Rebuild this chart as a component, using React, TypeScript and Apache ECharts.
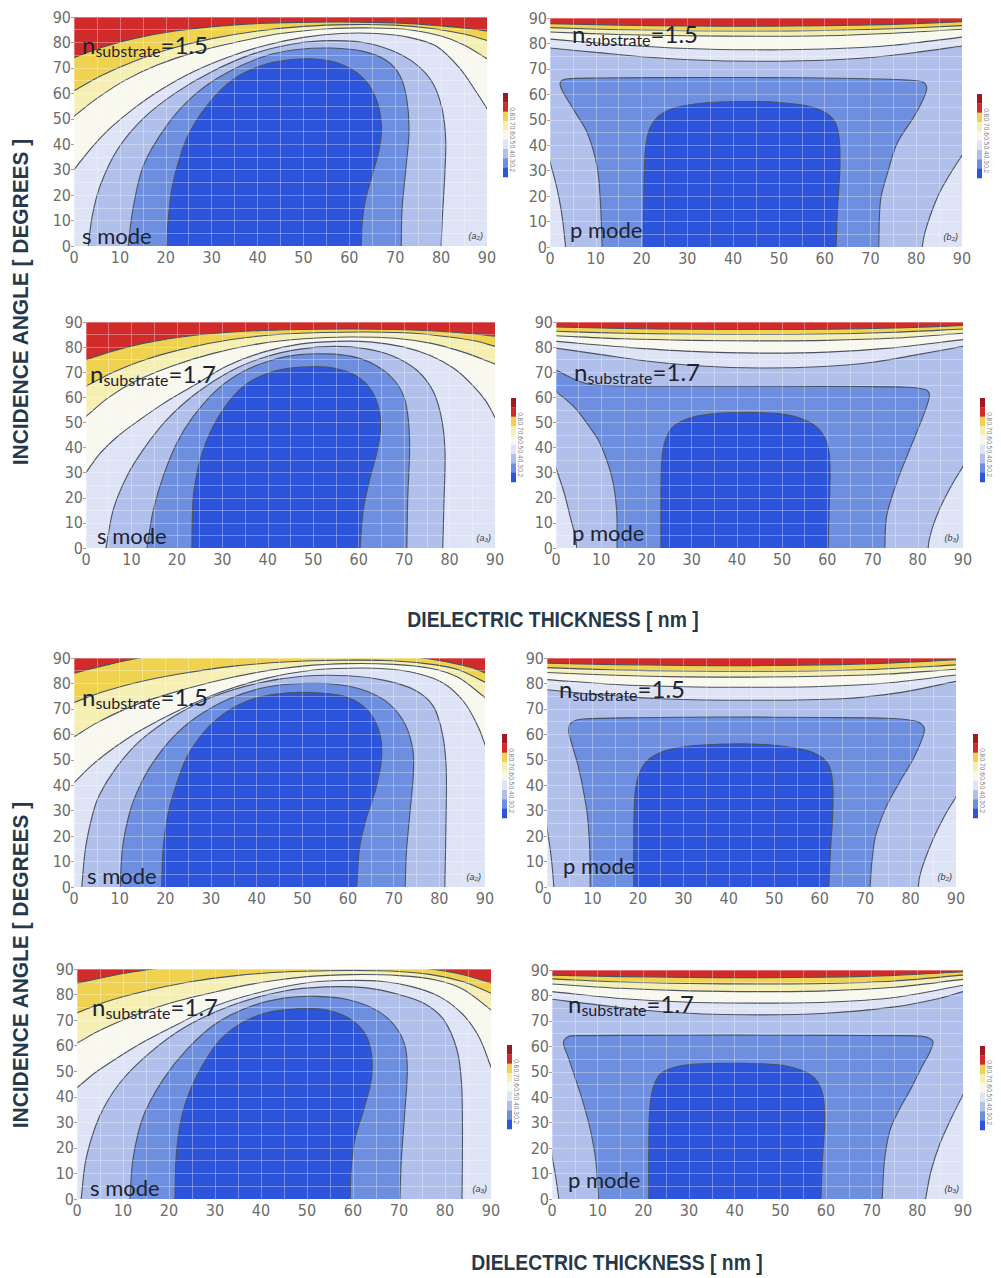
import { useEffect, useRef } from 'react';
import * as echarts from 'echarts';

type Pt = [number, number];
type Corner = 'bl' | 'br';
type Layer = { band: number; close: Corner[]; pts: Pt[] };

// Band fills, lowest value first: <0.2, 0.2–0.3, …, 0.8–0.9, >0.9
const BAND_COLORS = ['#2c55dc', '#6e8fe0', '#b1bfeb', '#dee4f5', '#f8f8ef', '#f5efb4', '#eed250', '#d22b2c', '#9c1b1e'];
const BAR_LABELS = ['0.8', '0.7', '0.6', '0.5', '0.4', '0.3', '0.2'];
const AXIS_MIN = 0;
const AXIS_MAX = 90;
const AXIS_STEP = 10;
const Y_TITLE = 'INCIDENCE ANGLE [ DEGREES ]';
const X_TITLE = 'DIELECTRIC THICKNESS [ nm ]';

const BELOW: Corner[] = ['br', 'bl'];
const NONE: Corner[] = [];
const LEFT_CORNER: Corner[] = ['bl'];
const RIGHT_CORNER: Corner[] = ['br'];

// ---------- (a2) s mode, n = 1.5 (upper block) ----------
const P1_C80: Pt[] = [[0, 74], [6, 78], [13, 81.5], [22, 84.5], [32, 86.5], [42, 87.6], [52, 88], [62, 88], [72, 87.5], [80, 86.5], [86, 85.5], [90, 84.5]];
const P1_C70: Pt[] = [[0, 61], [6, 67], [13, 72.5], [21, 77.5], [30, 81.5], [40, 84.5], [50, 86.3], [60, 87], [70, 86.8], [78, 85.5], [85, 83.3], [90, 80.8]];
const P1_C60: Pt[] = [[0, 51], [5, 58], [11, 65], [18, 71], [26, 76], [35, 80], [45, 83.5], [55, 85.3], [65, 85.7], [73, 85], [80, 82.5], [85, 79], [90, 73.6]];
const P1_C50: Pt[] = [[0, 30], [4, 39], [8, 46.5], [13, 54], [19, 61.5], [26, 68.5], [34, 74.5], [42, 79], [50, 82], [58, 83.5], [66, 83.5], [73, 82], [79, 78.5], [84, 70], [87.5, 61], [90, 54]];
const P1_C40: Pt[] = [[3.1, 0], [4, 12], [5.7, 23.7], [9.5, 38], [15, 50], [22, 60], [30, 68.5], [39, 75.5], [48, 79.5], [56, 80.7], [63, 80], [69, 77], [74.5, 71.5], [78.2, 64], [80.2, 54], [81, 42], [80.8, 28], [80.3, 12], [80, 0]];
const P1_C30: Pt[] = [[11.8, 0], [12.8, 14], [15.1, 31.5], [20.2, 47.3], [26, 59], [33.2, 68], [41.9, 74.8], [49.2, 77.3], [56, 77.8], [63, 76.5], [68, 73], [71, 67], [72.5, 58], [73, 45], [72.3, 30], [71.5, 15], [71.3, 0]];
const P1_C20: Pt[] = [[20.2, 0], [20.6, 12], [21.6, 25], [24.5, 42], [28.9, 55], [34.7, 65.5], [41.9, 71.5], [49, 73.5], [55, 73], [60, 70], [63.5, 65], [66, 57], [67, 47], [66.5, 38], [65, 28], [63.5, 18], [62.8, 9], [62.6, 0]];

// ---------- (b2) p mode, n = 1.5 (upper block) ----------
const P2_C80: Pt[] = [[0, 87.8], [15, 87.2], [30, 86.9], [45, 86.8], [60, 87], [75, 87.5], [90, 88.5]];
const P2_C70: Pt[] = [[0, 86.2], [15, 85.4], [30, 85], [45, 84.9], [60, 85.1], [75, 85.8], [90, 87]];
const P2_C60: Pt[] = [[0, 84.5], [15, 83.5], [30, 83], [45, 82.8], [60, 83], [75, 84], [90, 85.6]];
const P2_C50: Pt[] = [[0, 81.7], [15, 79.5], [30, 78], [45, 77.5], [60, 77.8], [75, 79.3], [90, 82.5]];
const P2_C40: Pt[] = [[0, 78.2], [10, 76.5], [20, 74.8], [32, 73.5], [45, 73], [58, 73.3], [70, 74.5], [80, 76.5], [90, 79]];
const P2_C40L: Pt[] = [[0, 33.5], [1.4, 24], [2.4, 15], [3, 7], [3.4, 0]];
const P2_C40R: Pt[] = [[90, 36], [87.5, 29], [85, 21], [83, 12], [81.8, 5], [81.3, 0]];
const P2_C30: Pt[] = [[11.4, 0], [11, 18], [10.3, 31.5], [8.2, 44.7], [5.5, 53], [3.8, 58], [2.4, 62.5], [2.3, 64.8], [3.5, 66], [10, 66.4], [35, 66.6], [55, 66.5], [72, 66], [78, 65.6], [81.5, 64.8], [82.3, 62.5], [81.5, 58], [79.5, 51.2], [75.8, 40.7], [73.7, 28.9], [72.2, 18.4], [71.8, 0]];
const P2_C20: Pt[] = [[20.4, 0], [20.5, 20], [20.7, 35], [21.5, 45], [23.5, 51], [27, 54.5], [33, 56.5], [42, 57.2], [50, 56.8], [56, 55.5], [60, 53], [62.3, 49], [63.2, 42], [63.3, 30], [62.8, 15], [62.5, 0]];

// ---------- (a3) s mode, n = 1.7 (upper block) ----------
const P3_C80: Pt[] = [[0, 75], [6, 78.5], [14, 82], [24, 84.7], [35, 86.3], [47, 87], [58, 87.2], [68, 87], [78, 86.3], [85, 85.3], [90, 84.3]];
const P3_C70: Pt[] = [[0, 64.4], [6, 70], [13, 75], [22, 79.5], [32, 83], [42, 85], [52, 85.8], [62, 86], [72, 85.5], [80, 84], [86, 82.3], [90, 80.3]];
const P3_C60: Pt[] = [[0, 52.4], [5, 60], [11, 66.5], [19, 72.5], [28, 77.5], [38, 81.3], [48, 83.3], [58, 84], [68, 83.5], [76, 81.5], [83, 78], [90, 73.3]];
const P3_C50: Pt[] = [[0, 30], [3, 37.5], [7, 44.5], [11, 50], [17, 57.5], [24, 65], [31, 72.5], [39, 78], [47, 81.2], [55, 82.3], [63, 82], [70, 80], [76, 76.5], [81, 71.5], [85, 65], [88, 58.5], [90, 52]];
const P3_C40: Pt[] = [[4.4, 0], [6, 15.3], [9, 28.6], [12.6, 39.2], [17.8, 51.1], [24.4, 61.8], [32.4, 71], [39.8, 76.3], [47.1, 79.2], [54.4, 80.3], [61, 79.5], [67.5, 76.5], [73, 70.5], [76.5, 62], [78.3, 51], [79, 38], [78.8, 20], [78.5, 0]];
const P3_C30: Pt[] = [[13.4, 0], [14.8, 15], [17, 28.6], [20, 41.8], [23.6, 52.4], [28.8, 63], [34.6, 70.3], [41.2, 75], [47, 77], [53, 77.3], [58.5, 76.3], [63.5, 73], [67.5, 67.5], [70, 60], [71, 50], [71.2, 38], [70.8, 20], [70.6, 0]];
const P3_C20: Pt[] = [[23.3, 0], [23.4, 12], [23.7, 22], [25.1, 35], [28, 48.5], [32.4, 60.4], [36.8, 67], [42.7, 71], [49.3, 72.2], [55, 71.5], [59.5, 68.5], [62.7, 63], [64.5, 55], [64.8, 47], [64, 38], [62.5, 28], [61, 15], [60.3, 0]];

// ---------- (b3) p mode, n = 1.7 (upper block) ----------
const P4_C80: Pt[] = [[0, 88], [15, 87.4], [30, 87.1], [45, 87], [60, 87.1], [75, 87.6], [90, 88.6]];
const P4_C70: Pt[] = [[0, 86.3], [15, 85.5], [30, 85.1], [45, 85], [60, 85.2], [75, 85.9], [90, 87.2]];
const P4_C60: Pt[] = [[0, 84.5], [15, 83.3], [30, 82.7], [45, 82.5], [60, 82.7], [75, 83.6], [90, 85.5]];
const P4_C50: Pt[] = [[0, 82.3], [15, 80], [30, 78.3], [45, 77.6], [60, 78], [75, 79.8], [90, 83]];
const P4_C40: Pt[] = [[0, 79.6], [10, 77], [20, 74.5], [32, 72.5], [45, 71.7], [58, 72.2], [70, 74], [80, 77], [90, 80.3]];
const P4_C40L: Pt[] = [[0, 31.9], [1.8, 22], [3.2, 12], [4.2, 5], [4.6, 0]];
const P4_C40R: Pt[] = [[90, 32.5], [87.5, 25], [85.2, 17], [83.4, 9], [82.5, 3], [82.3, 0]];
const P4_C30: Pt[] = [[0, 70.9], [2, 69], [4.5, 66.8], [8, 65], [15, 64.5], [30, 64.4], [50, 64.4], [68, 64.3], [78, 64], [81.8, 63], [82.6, 61], [81.5, 54], [78.2, 39.2], [75.3, 25.9], [73.1, 12.6], [72.7, 0]];
const P4_C30L: Pt[] = [[0, 62.4], [2.3, 59], [4.6, 55], [7.5, 48], [9.7, 41.8], [12.3, 28.6], [13.4, 15.3], [13.5, 0]];
const P4_C20: Pt[] = [[23.2, 0], [23.2, 20], [23.4, 35], [24.2, 43], [26, 48.5], [30, 52], [36, 53.6], [43, 53.9], [50, 53.3], [55, 51], [58.3, 47], [60.2, 40], [60.6, 30], [60.4, 15], [60.2, 0]];

// ---------- (a2) s mode, n = 1.5 (lower block) ----------
const P5_C80: Pt[] = [[0, 84], [4, 85.9], [8, 87.6], [12, 89.2], [16, 90.5], [25, 91.5], [45, 92], [65, 91.5], [74, 90.5], [79, 89.3], [84, 87.6], [87.5, 86], [90, 84.1]];
const P5_C70: Pt[] = [[0, 72.5], [6, 76.5], [14, 80.5], [24, 84], [35, 86.8], [47, 88.5], [58, 89.1], [68, 89], [77, 87.8], [84, 85.5], [90, 80.5]];
const P5_C60: Pt[] = [[0, 59], [5, 64.5], [12, 70.5], [20, 75.5], [30, 80.5], [40, 84.3], [50, 86.8], [60, 87.8], [70, 87.5], [78, 86], [84, 82.5], [90, 74.5]];
const P5_C50: Pt[] = [[0, 41], [4, 48], [9, 55], [15, 62], [23, 69.5], [32, 76.5], [42, 82], [52, 85.2], [60, 86], [68, 85.8], [75, 84], [81, 80], [85.5, 72.5], [88.5, 63], [90, 56]];
const P5_C40: Pt[] = [[1.7, 0], [2.5, 15], [4, 28], [5.5, 36], [9.3, 47], [14.5, 57.5], [21.8, 67], [30, 74.5], [40, 80], [50, 82.8], [60, 83], [68, 81.2], [74.5, 77.5], [78.7, 71], [80.7, 60], [81.5, 47], [81.5, 30], [81.2, 0]];
const P5_C30: Pt[] = [[10.1, 0], [10.6, 15], [12, 28], [13.5, 36], [16.6, 47], [21.5, 58.5], [27, 67], [34, 74], [42, 78.5], [50, 80], [58, 79.5], [64, 77], [69, 72], [72.5, 64], [74.2, 54], [74.3, 44], [73.5, 28], [72.8, 14], [72.5, 0]];
const P5_C20: Pt[] = [[19.2, 0], [19.5, 15], [20.5, 28], [22, 38], [24.7, 51], [29, 62], [34, 69.5], [40, 74.3], [47, 76.3], [54, 76.2], [60, 74.5], [64.5, 69], [67, 60], [67.3, 50], [66, 38], [64, 27], [62.5, 15], [61.9, 0]];

// ---------- (b2) p mode, n = 1.5 (lower block) ----------
const P6_C80: Pt[] = [[0, 88], [15, 87.4], [30, 87.1], [45, 87], [60, 87.3], [75, 88], [90, 89.3]];
const P6_C70: Pt[] = [[0, 86.2], [15, 85.3], [30, 84.9], [45, 84.8], [60, 85], [75, 85.8], [90, 87.3]];
const P6_C60: Pt[] = [[0, 84.3], [15, 83.2], [30, 82.6], [45, 82.5], [60, 82.8], [75, 83.7], [90, 85.6]];
const P6_C50: Pt[] = [[0, 81.5], [15, 79.6], [30, 78.7], [45, 78.5], [60, 78.8], [75, 80.2], [90, 83.3]];
const P6_C40: Pt[] = [[0, 77.5], [10, 75.8], [25, 74], [45, 73.4], [65, 74], [78, 76.5], [90, 80.8]];
const P6_C40L: Pt[] = [[0, 23.2], [0.7, 15], [1.2, 7], [1.5, 0]];
const P6_C40R: Pt[] = [[90, 35.4], [87.5, 28], [85, 19], [83, 10], [82, 4], [81.7, 0]];
const P6_C30: Pt[] = [[9.5, 0], [9.4, 15], [8.9, 28], [8, 38], [6.8, 48], [5.5, 56], [4.8, 61], [5.3, 64.5], [8, 66], [20, 66.5], [40, 66.8], [60, 66.6], [75, 66.3], [81.5, 65], [83, 62.5], [82.5, 58], [80.5, 50], [77.5, 41], [74.5, 31], [72.3, 20], [71.5, 10], [71.1, 0]];
const P6_C20: Pt[] = [[19.1, 0], [19.1, 20], [19.3, 35], [20, 43], [22, 49.5], [26, 53.5], [32, 55.5], [40, 56.2], [48, 56], [54, 54.8], [59, 52.5], [61.8, 48.5], [62.8, 42], [62.9, 30], [62.4, 15], [62, 0]];

// ---------- (a3) s mode, n = 1.7 (lower block) ----------
const P7_C80: Pt[] = [[0, 84.5], [6, 86.8], [12, 88.8], [18, 90.3], [30, 91.5], [50, 92], [68, 91.3], [76, 90.2], [82, 88.5], [86.5, 86.5], [90, 84.5]];
const P7_C70: Pt[] = [[0, 72.8], [6, 77], [14, 81], [24, 84.8], [35, 87.5], [47, 89], [58, 89.4], [68, 89.2], [77, 87.8], [84, 85], [90, 80.5]];
const P7_C60: Pt[] = [[0, 61], [5, 66], [12, 71.5], [20, 76.5], [30, 81], [40, 84.7], [50, 87], [60, 87.8], [70, 87.4], [78, 85.7], [84, 82], [90, 74]];
const P7_C50: Pt[] = [[0, 43.5], [4, 49.5], [9, 55.5], [15, 62], [22, 68.5], [30, 75.5], [40, 81], [50, 84.6], [58, 85.5], [66, 85.2], [73, 83], [79, 79], [84, 72], [87.5, 63], [90, 51.6]];
const P7_C40: Pt[] = [[0.9, 0], [2, 16], [4.9, 32.3], [9.3, 45.4], [15.8, 57.2], [23.8, 67.6], [34, 76], [44.8, 81.3], [54, 83], [63, 82.6], [70, 80], [75.5, 76.5], [79.7, 70.2], [82.6, 58.4], [83.6, 45], [83.8, 25], [83.7, 0]];
const P7_C30: Pt[] = [[11.5, 0], [12.2, 16], [14.4, 32.3], [18.7, 46.7], [23.8, 58.4], [30.3, 68.8], [38, 75.5], [45, 78.6], [52, 79.3], [59, 78], [65, 74], [69, 68], [71.3, 60], [71.8, 50], [71.3, 35], [70.5, 15], [70.2, 0]];
const P7_C20: Pt[] = [[21.3, 0], [21.5, 15], [22.2, 27], [23.5, 37], [26, 48], [30.3, 60.5], [35, 68], [41, 72.8], [48, 74.4], [54, 74], [59, 70.8], [62.5, 65], [64, 57], [64, 47], [62.5, 36], [60.5, 24], [59.6, 12], [59.4, 0]];

// ---------- (b3) p mode, n = 1.7 (lower block) ----------
const P8_C80: Pt[] = [[0, 88], [15, 87.4], [30, 87.1], [45, 87], [60, 87.2], [75, 87.9], [90, 89.3]];
const P8_C70: Pt[] = [[0, 86.5], [15, 85.3], [30, 84.7], [45, 84.5], [60, 84.7], [75, 85.7], [90, 88]];
const P8_C60: Pt[] = [[0, 84.5], [15, 82.8], [30, 81.8], [45, 81.5], [60, 81.8], [75, 83.2], [90, 86.3]];
const P8_C50: Pt[] = [[0, 81.5], [15, 78.8], [30, 77.3], [45, 77], [60, 77.3], [75, 79.2], [90, 84]];
const P8_C40: Pt[] = [[0, 78.5], [10, 76.3], [25, 73.5], [42, 72.4], [60, 73], [75, 75.5], [84, 78.5], [90, 81.5]];
const P8_C40L: Pt[] = [[0, 16.8], [0.7, 10], [1.2, 4], [1.5, 0]];
const P8_C40R: Pt[] = [[90, 41], [87.5, 32], [85, 22], [83, 11], [81.8, 0]];
const P8_C30: Pt[] = [[10.2, 0], [9.6, 15], [8.3, 28], [6.8, 38], [5, 48], [3.5, 56], [2.5, 61.5], [3.5, 63.8], [6, 64.2], [20, 64.3], [40, 64.4], [60, 64.3], [75, 64.2], [81.5, 63.8], [83.4, 62], [82.8, 58], [81, 52], [78.5, 43], [76, 35], [74, 27], [72.8, 15], [72.3, 0]];
const P8_C20: Pt[] = [[21.2, 0], [21.2, 20], [21.4, 35], [22.2, 44], [24, 49.5], [28, 52.3], [34, 53.2], [42, 53.3], [49, 52.8], [54, 51], [57.5, 47.5], [59.3, 41], [59.7, 30], [59.2, 15], [58.9, 0]];

// Painting order: each layer covers the region below its contour with its band colour.
const sLayers = (c80: Pt[], c70: Pt[], c60: Pt[], c50: Pt[], c40: Pt[], c30: Pt[], c20: Pt[]): Layer[] => [
  { band: 6, close: BELOW, pts: c80 },
  { band: 5, close: BELOW, pts: c70 },
  { band: 4, close: BELOW, pts: c60 },
  { band: 3, close: BELOW, pts: c50 },
  { band: 2, close: NONE, pts: c40 },
  { band: 1, close: NONE, pts: c30 },
  { band: 0, close: NONE, pts: c20 },
];
const pTop = (c80: Pt[], c70: Pt[], c60: Pt[], c50: Pt[], c40: Pt[]): Layer[] => [
  { band: 6, close: BELOW, pts: c80 },
  { band: 5, close: BELOW, pts: c70 },
  { band: 4, close: BELOW, pts: c60 },
  { band: 3, close: BELOW, pts: c50 },
  { band: 2, close: BELOW, pts: c40 },
];

const P1_LAYERS = sLayers(P1_C80, P1_C70, P1_C60, P1_C50, P1_C40, P1_C30, P1_C20);
const P2_LAYERS: Layer[] = [
  ...pTop(P2_C80, P2_C70, P2_C60, P2_C50, P2_C40),
  { band: 3, close: LEFT_CORNER, pts: P2_C40L },
  { band: 3, close: RIGHT_CORNER, pts: P2_C40R },
  { band: 1, close: NONE, pts: P2_C30 },
  { band: 0, close: NONE, pts: P2_C20 },
];
const P3_LAYERS = sLayers(P3_C80, P3_C70, P3_C60, P3_C50, P3_C40, P3_C30, P3_C20);
const P4_LAYERS: Layer[] = [
  ...pTop(P4_C80, P4_C70, P4_C60, P4_C50, P4_C40),
  { band: 1, close: LEFT_CORNER, pts: P4_C30 },
  { band: 2, close: LEFT_CORNER, pts: P4_C30L },
  { band: 3, close: LEFT_CORNER, pts: P4_C40L },
  { band: 3, close: RIGHT_CORNER, pts: P4_C40R },
  { band: 0, close: NONE, pts: P4_C20 },
];
const P5_LAYERS = sLayers(P5_C80, P5_C70, P5_C60, P5_C50, P5_C40, P5_C30, P5_C20);
const P6_LAYERS: Layer[] = [
  ...pTop(P6_C80, P6_C70, P6_C60, P6_C50, P6_C40),
  { band: 3, close: LEFT_CORNER, pts: P6_C40L },
  { band: 3, close: RIGHT_CORNER, pts: P6_C40R },
  { band: 1, close: NONE, pts: P6_C30 },
  { band: 0, close: NONE, pts: P6_C20 },
];
const P7_LAYERS = sLayers(P7_C80, P7_C70, P7_C60, P7_C50, P7_C40, P7_C30, P7_C20);
const P8_LAYERS: Layer[] = [
  ...pTop(P8_C80, P8_C70, P8_C60, P8_C50, P8_C40),
  { band: 3, close: LEFT_CORNER, pts: P8_C40L },
  { band: 3, close: RIGHT_CORNER, pts: P8_C40R },
  { band: 1, close: NONE, pts: P8_C30 },
  { band: 0, close: NONE, pts: P8_C20 },
];

type Panel = {
  rect: [number, number, number, number];
  layers: Layer[];
  mode: string;
  n: string;
  tag: string;
  nAt: Pt;
  modeAt: Pt;
  bar: Pt;
};

const PANELS: Panel[] = [
  { rect: [74, 17, 413, 229], layers: P1_LAYERS, mode: 's mode', n: '1.5', tag: '(a₂)', nAt: [8, 36], modeAt: [8, -3], bar: [503, 93] },
  { rect: [550, 18, 412, 229], layers: P2_LAYERS, mode: 'p mode', n: '1.5', tag: '(b₂)', nAt: [22, 24], modeAt: [20, -10], bar: [977, 94] },
  { rect: [86, 322, 409, 226], layers: P3_LAYERS, mode: 's mode', n: '1.7', tag: '(a₃)', nAt: [4, 60], modeAt: [11, -5], bar: [511, 398] },
  { rect: [556, 322, 407, 226], layers: P4_LAYERS, mode: 'p mode', n: '1.7', tag: '(b₃)', nAt: [18, 58], modeAt: [16, -8], bar: [980, 398] },
  { rect: [74, 658, 411, 229], layers: P5_LAYERS, mode: 's mode', n: '1.5', tag: '(a₂)', nAt: [8, 47], modeAt: [13, -4], bar: [502, 734] },
  { rect: [547, 658, 409, 229], layers: P6_LAYERS, mode: 'p mode', n: '1.5', tag: '(b₂)', nAt: [12, 39], modeAt: [16, -14], bar: [973, 734] },
  { rect: [77, 969, 414, 230], layers: P7_LAYERS, mode: 's mode', n: '1.7', tag: '(a₃)', nAt: [15, 46], modeAt: [13, -4], bar: [507, 1045] },
  { rect: [552, 970, 411, 229], layers: P8_LAYERS, mode: 'p mode', n: '1.7', tag: '(b₃)', nAt: [16, 42], modeAt: [16, -12], bar: [980, 1046] },
];

const LINE_COLOR = '#4a5361';
const TEXT_COLOR = '#1d2331';
const TICK_COLOR = '#6c6c6c';
const TITLE_COLOR = '#27384b';
const TICK_FONT = "'Liberation Sans Narrow', 'Arial Narrow', 'DejaVu Sans Condensed', 'Liberation Sans', sans-serif";
const TITLE_FONT = "'Liberation Sans', Arial, sans-serif";
const NOTE_FONT = 'Lato, "Open Sans", sans-serif';

// Contour ends are continued a little past the frame, and each region is closed
// through points outside the plot so that only the contour itself shows after clipping.
const EXT = 4;
const FAR = 15;
const CORNER_PTS: Record<Corner, Pt> = { bl: [AXIS_MIN - FAR, AXIS_MIN - FAR], br: [AXIS_MAX + FAR, AXIS_MIN - FAR] };

function extendEnd(p: Pt, q: Pt): Pt {
  const dx = p[0] - q[0];
  const dy = p[1] - q[1];
  const len = Math.hypot(dx, dy) || 1;
  return [p[0] + (dx / len) * EXT, p[1] + (dy / len) * EXT];
}

function outline(layer: Layer): Pt[] {
  const p = layer.pts;
  const n = p.length;
  const out: Pt[] = [extendEnd(p[0], p[1]), ...p, extendEnd(p[n - 1], p[n - 2])];
  layer.close.forEach((c) => out.push(CORNER_PTS[c]));
  return out;
}

function buildOption() {
  const grid = PANELS.map((p) => ({ left: p.rect[0], top: p.rect[1], width: p.rect[2], height: p.rect[3], containLabel: false }));
  const gridLine = { color: 'rgba(255,255,255,0.32)', width: 1 };
  const axisBase = {
    type: 'value',
    min: AXIS_MIN,
    max: AXIS_MAX,
    interval: AXIS_STEP,
    z: 10,
    axisLine: { show: false },
    splitLine: { show: true, lineStyle: gridLine },
    minorTick: { show: false, splitNumber: 2 },
    minorSplitLine: { show: true, lineStyle: gridLine },
  };
  const xAxis = PANELS.map((_, i) => ({
    ...axisBase,
    gridIndex: i,
    axisTick: { show: false },
    axisLabel: { color: TICK_COLOR, fontSize: 16, fontFamily: TICK_FONT, margin: 3 },
  }));
  const yAxis = PANELS.map((_, i) => ({
    ...axisBase,
    gridIndex: i,
    axisTick: { show: true, length: 3, lineStyle: { color: '#a0a0a0' } },
    axisLabel: { color: TICK_COLOR, fontSize: 16, fontFamily: TICK_FONT, margin: 3 },
  }));

  const series = PANELS.map((panel, i) => {
    const items = [null, ...panel.layers];
    return {
      type: 'custom',
      xAxisIndex: i,
      yAxisIndex: i,
      clip: true,
      silent: true,
      data: items.map((_, k) => [k, 0]),
      renderItem: (params: any, api: any) => {
        const k = params.dataIndex;
        if (k === 0) {
          const tl = api.coord([AXIS_MIN, AXIS_MAX]);
          const br = api.coord([AXIS_MAX, AXIS_MIN]);
          return {
            type: 'rect',
            shape: { x: tl[0], y: tl[1], width: br[0] - tl[0], height: br[1] - tl[1] },
            style: { fill: BAND_COLORS[7] },
          };
        }
        const layer = items[k] as Layer;
        const pts = outline(layer).map((pt) => api.coord(pt));
        return {
          type: 'polygon',
          shape: { points: pts, smooth: 0.32 },
          style: { fill: BAND_COLORS[layer.band], stroke: LINE_COLOR, lineWidth: 1.1 },
        };
      },
    };
  });

  const graphic: any[] = [];
  PANELS.forEach((p) => {
    const [left, top, w, h] = p.rect;
    graphic.push({
      type: 'text',
      x: left + p.nAt[0],
      y: top + p.nAt[1] - 22,
      silent: true,
      z: 50,
      style: {
        text: `{n|n}{s|substrate}{n|=${p.n}}`,
        verticalAlign: 'top',
        textVerticalAlign: 'top',
        rich: {
          n: { fontSize: 24, fontFamily: NOTE_FONT, lineHeight: 27, fill: TEXT_COLOR },
          s: { fontSize: 16, fontFamily: NOTE_FONT, lineHeight: 12, verticalAlign: 'bottom', fill: TEXT_COLOR },
        },
      },
    });
    graphic.push({
      type: 'text',
      x: left + p.modeAt[0],
      y: top + h + p.modeAt[1] - 8,
      silent: true,
      z: 50,
      style: { text: p.mode, fontSize: 22, fontFamily: NOTE_FONT, fill: TEXT_COLOR, verticalAlign: 'middle', textVerticalAlign: 'middle' },
    });
    graphic.push({
      type: 'text',
      x: left + w - 4,
      y: top + h - 10,
      silent: true,
      z: 50,
      style: {
        text: p.tag,
        fontSize: 9,
        fontStyle: 'italic',
        fontFamily: TITLE_FONT,
        fill: '#3a3a3a',
        align: 'right',
        textAlign: 'right',
        verticalAlign: 'middle',
        textVerticalAlign: 'middle',
      },
    });
    // colour key
    const sh = 84 / BAND_COLORS.length;
    BAND_COLORS.forEach((_, k) => {
      graphic.push({
        type: 'rect',
        x: p.bar[0],
        y: p.bar[1] + k * sh,
        silent: true,
        shape: { x: 0, y: 0, width: 5, height: sh + 0.3 },
        style: { fill: BAND_COLORS[BAND_COLORS.length - 1 - k] },
      });
    });
    BAR_LABELS.forEach((lab, j) => {
      graphic.push({
        type: 'text',
        x: p.bar[0] + 9,
        y: p.bar[1] + (j + 2) * sh,
        rotation: -Math.PI / 2,
        silent: true,
        style: { text: lab, fontSize: 6.5, fontFamily: TITLE_FONT, fill: '#7a7a7a', align: 'center', textAlign: 'center', verticalAlign: 'middle', textVerticalAlign: 'middle' },
      });
    });
  });

  const titleStyle = (text: string) => ({
    text,
    fontSize: 22,
    fontWeight: 'bold',
    fontFamily: TITLE_FONT,
    fill: TITLE_COLOR,
    align: 'center',
    textAlign: 'center',
    verticalAlign: 'middle',
    textVerticalAlign: 'middle',
  });
  [302, 965].forEach((cy) => {
    graphic.push({ type: 'text', x: 21, y: cy, rotation: Math.PI / 2, scaleX: 0.95, silent: true, style: titleStyle(Y_TITLE) });
  });
  [[553, 619], [617, 1262]].forEach(([cx, cy]) => {
    graphic.push({ type: 'text', x: cx, y: cy, scaleX: 0.88, silent: true, style: titleStyle(X_TITLE) });
  });

  return {
    animation: false,
    backgroundColor: '#ffffff',
    grid,
    xAxis,
    yAxis,
    series,
    graphic,
  };
}

export default function App() {
  const ref = useRef<HTMLDivElement>(null);
  useEffect(() => {
    if (!ref.current) return;
    const chart = echarts.init(ref.current, undefined, { renderer: 'svg' });
    chart.setOption(buildOption() as any);
    return () => chart.dispose();
  }, []);
  return <div ref={ref} style={{ position: 'absolute', left: 0, top: 0, width: 1001, height: 1278, background: '#fff' }} />;
}
